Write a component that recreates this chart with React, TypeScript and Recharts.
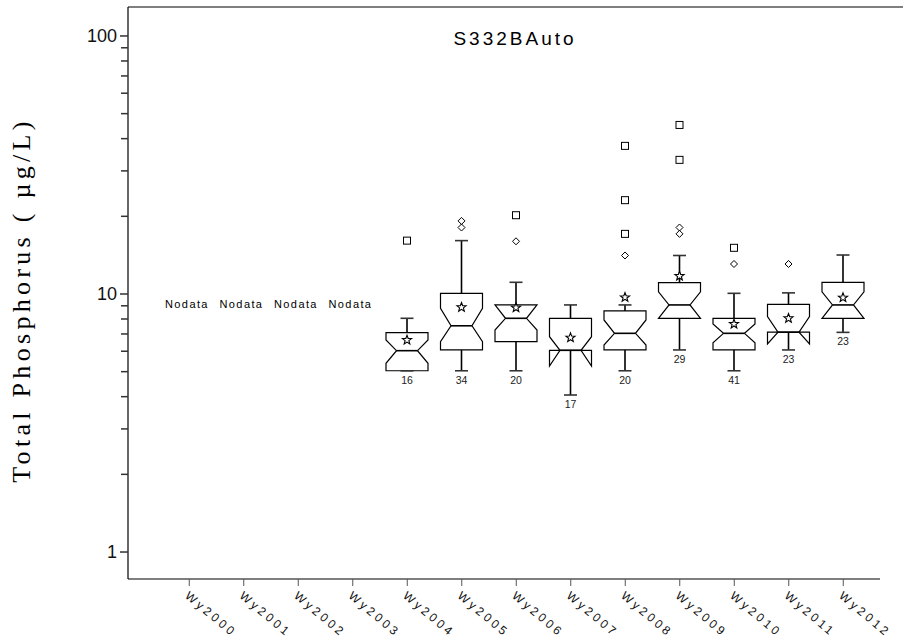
import React from 'react';
import { Bar, ComposedChart, Customized, XAxis, YAxis } from 'recharts';

// water years on the x axis
const years = [
  'Wy2000', 'Wy2001', 'Wy2002', 'Wy2003', 'Wy2004', 'Wy2005', 'Wy2006',
  'Wy2007', 'Wy2008', 'Wy2009', 'Wy2010', 'Wy2011', 'Wy2012',
];

// box statistics (µg/L), null = no data for that year
const whiskerLow = [null, null, null, null, 5.04, 5.04, 5.04, 4.06, 5.04, 6.07, 5.04, 6.07, 7.1];
const q1 = [null, null, null, null, 5.04, 6.07, 6.54, 6.05, 6.07, 8.05, 6.07, 7.11, 8.05];
const notchLow = [null, null, null, null, 5.39, 6.54, 7.25, 5.26, 6.34, 8.05, 6.47, 6.4, 8.05];
const median = [null, null, null, null, 6.03, 7.53, 8.05, 6.05, 7.04, 9.07, 7.04, 7.11, 9.07];
const notchHigh = [null, null, null, null, 6.63, 8.8, 9.07, 6.83, 7.93, 10.2, 7.65, 8.17, 10.2];
const q3 = [null, null, null, null, 7.08, 10.06, 9.07, 8.05, 8.6, 11.06, 8.05, 9.12, 11.1];
const whiskerHigh = [null, null, null, null, 8.05, 16.1, 11.1, 9.07, 9.07, 14.1, 10.06, 10.1, 14.16];
const means = [null, null, null, null, 6.63, 8.88, 8.85, 6.77, 9.7, 11.74, 7.65, 8.05, 9.68];
const counts = [null, null, null, null, 16, 34, 20, 17, 20, 29, 41, 23, 23];

// outliers: squares (far) and diamonds (near)
const farOutliers: number[][] = [[], [], [], [], [16.1], [], [20.2], [], [37.5, 23.1, 17.1], [45.2, 33.1], [15.1], [], []];
const nearOutliers: number[][] = [[], [], [], [], [], [19.2, 18.1], [16.0], [], [14.1], [18.1, 17.1], [13.07], [13.07], []];

const yTicks = [1, 2, 3, 4, 5, 6, 7, 8, 9, 10, 20, 30, 40, 50, 60, 70, 80, 90, 100];
const majorTicks = [1, 10, 100];

const chartData = years.map((year, i) => {
  const lo = whiskerLow[i];
  const hi = whiskerHigh[i];
  const hasData = lo != null && hi != null;
  const all = hasData ? [lo, hi, ...farOutliers[i], ...nearOutliers[i]] : [];
  return {
    year,
    span: hasData ? [Math.min(...all), Math.max(...all)] : null,
    lo, hi,
    q1: q1[i], q3: q3[i], median: median[i],
    notchLow: notchLow[i], notchHigh: notchHigh[i],
    mean: means[i], n: counts[i],
    far: farOutliers[i], near: nearOutliers[i],
  };
});

const SANS = 'Liberation Sans, Arial, sans-serif';
const SERIF = 'Liberation Serif, Times New Roman, serif';

function starPath(cx: number, cy: number, ro: number, ri: number) {
  const pts: string[] = [];
  for (let k = 0; k < 10; k++) {
    const r = k % 2 === 0 ? ro : ri;
    const a = -Math.PI / 2 + (k * Math.PI) / 5;
    pts.push(`${cx + r * Math.cos(a)},${cy + r * Math.sin(a)}`);
  }
  return `M${pts.join('L')}Z`;
}

function BoxShape(props: any) {
  const { x, y, width, height, payload } = props;
  if (!payload || !payload.span) return null;
  const [lo, hi] = payload.span;
  const top = Math.min(y, y + height);
  const bottom = Math.max(y, y + height);
  // position inside the bar's own (log) extent
  const yOf = (v: number) =>
    top + ((Math.log(hi) - Math.log(v)) / (Math.log(hi) - Math.log(lo))) * (bottom - top);

  const cx = x + width / 2;
  const half = width / 2;
  const inner = half / 2;
  const cap = 6.5;

  const yQ1 = yOf(payload.q1);
  const yQ3 = yOf(payload.q3);
  const yMed = yOf(payload.median);
  const yNl = yOf(payload.notchLow);
  const yNh = yOf(payload.notchHigh);
  const yLo = yOf(payload.lo);
  const yHi = yOf(payload.hi);
  const yMean = yOf(payload.mean);

  const box = [
    [cx - half, yQ3], [cx + half, yQ3], [cx + half, yNh], [cx + inner, yMed],
    [cx + half, yNl], [cx + half, yQ1], [cx - half, yQ1], [cx - half, yNl],
    [cx - inner, yMed], [cx - half, yNh],
  ];

  return (
    <g>
      {/* whiskers */}
      <line x1={cx} x2={cx} y1={yQ3} y2={yHi} stroke="#000" strokeWidth={1.6} />
      <line x1={cx} x2={cx} y1={yQ1} y2={yLo} stroke="#000" strokeWidth={1.6} />
      <line x1={cx - cap} x2={cx + cap} y1={yHi} y2={yHi} stroke="#333" strokeWidth={1.6} />
      <line x1={cx - cap} x2={cx + cap} y1={yLo} y2={yLo} stroke="#333" strokeWidth={1.6} />
      <polygon
        points={box.map((p) => p.join(',')).join(' ')}
        fill="#fff"
        stroke="#000"
        strokeWidth={1.2}
      />
      <line x1={cx - inner} x2={cx + inner} y1={yMed} y2={yMed} stroke="#000" strokeWidth={1.6} />
      <path d={starPath(cx, yMean, 4.8, 2)} fill="#fff" stroke="#000" strokeWidth={1.1} />
      {payload.far.map((v: number, k: number) => (
        <rect key={`f${k}`} x={cx - 3.5} y={yOf(v) - 3.5} width={7} height={7}
          fill="none" stroke="#000" strokeWidth={1} />
      ))}
      {payload.near.map((v: number, k: number) => {
        const yy = yOf(v);
        return (
          <path key={`n${k}`} d={`M${cx},${yy - 3.5}L${cx + 3.5},${yy}L${cx},${yy + 3.5}L${cx - 3.5},${yy}Z`}
            fill="none" stroke="#000" strokeWidth={1} />
        );
      })}
      <text x={cx} y={yLo + 13} textAnchor="middle" fontSize={10.5} fontFamily={SANS} fill="#222">
        {payload.n}
      </text>
    </g>
  );
}

// x arrives 10px left of the axis line (tickSize 5 + tickMargin 5)
function YTick(props: any) {
  const { x, y, payload } = props;
  const major = majorTicks.includes(payload.value);
  return (
    <g>
      <rect x={x + (major ? 2 : 3)} y={y - 0.75} width={major ? 8 : 7} height={1.5} fill="#333" />
      {major && (
        <text x={x - 1} y={y + 6} textAnchor="end" fontSize={18} fontFamily={SANS} fill="#111">
          {payload.value}
        </text>
      )}
    </g>
  );
}

function XTick(props: any) {
  const { x, y, payload } = props;
  return (
    <g transform={`translate(${x - 5},${y + 11}) rotate(40)`}>
      <text x={0} y={0} fontSize={12} fontFamily={SANS} letterSpacing={3.2} fill="#111">
        {payload.value}
      </text>
    </g>
  );
}

function Decorations() {
  const noData = years.filter((_, i) => whiskerLow[i] == null);
  return (
    <g>
      <line x1={128} x2={903} y1={7} y2={7} stroke="#000" strokeWidth={1.2} />
      <text x={515} y={45} textAnchor="middle" fontSize={19} fontFamily={SANS} letterSpacing={3} fill="#000">
        S332BAuto
      </text>
      <text
        x={30}
        y={300}
        transform="rotate(-90, 30, 300)"
        textAnchor="middle"
        fontSize={26}
        fontFamily={SERIF}
        letterSpacing={4.3}
        fill="#000"
      >
        Total Phosphorus ( µg/L)
      </text>
      {noData.map((yr, i) => (
        <text key={yr} x={165 + 54.5 * i} y={308} fontSize={11} fontFamily={SANS} letterSpacing={1.4} fill="#000">
          Nodata
        </text>
      ))}
    </g>
  );
}

export default function App() {
  return (
    <div style={{ position: 'absolute', left: 0, top: 0, background: '#fff' }}>
      <ComposedChart
        width={903}
        height={641}
        data={chartData}
        margin={{ top: 7, right: 23, bottom: 0, left: 0 }}
      >
        <XAxis
          dataKey="year"
          type="category"
          interval={0}
          padding={{ left: 34, right: 9.5 }}
          height={62}
          tickSize={7}
          tickMargin={0}
          tickLine={{ stroke: '#555' }}
          axisLine={{ stroke: '#000', strokeWidth: 1.2 }}
          tick={<XTick />}
        />
        <YAxis
          scale="log"
          type="number"
          domain={[0.786, 129.5]}
          allowDataOverflow
          ticks={yTicks}
          interval={0}
          minTickGap={0}
          width={128}
          tickSize={5}
          tickMargin={5}
          tickLine={false}
          axisLine={{ stroke: '#000', strokeWidth: 1.2 }}
          tick={<YTick />}
        />
        <Bar dataKey="span" barSize={42} shape={<BoxShape />} isAnimationActive={false} />
        <Customized component={<Decorations />} />
      </ComposedChart>
    </div>
  );
}
